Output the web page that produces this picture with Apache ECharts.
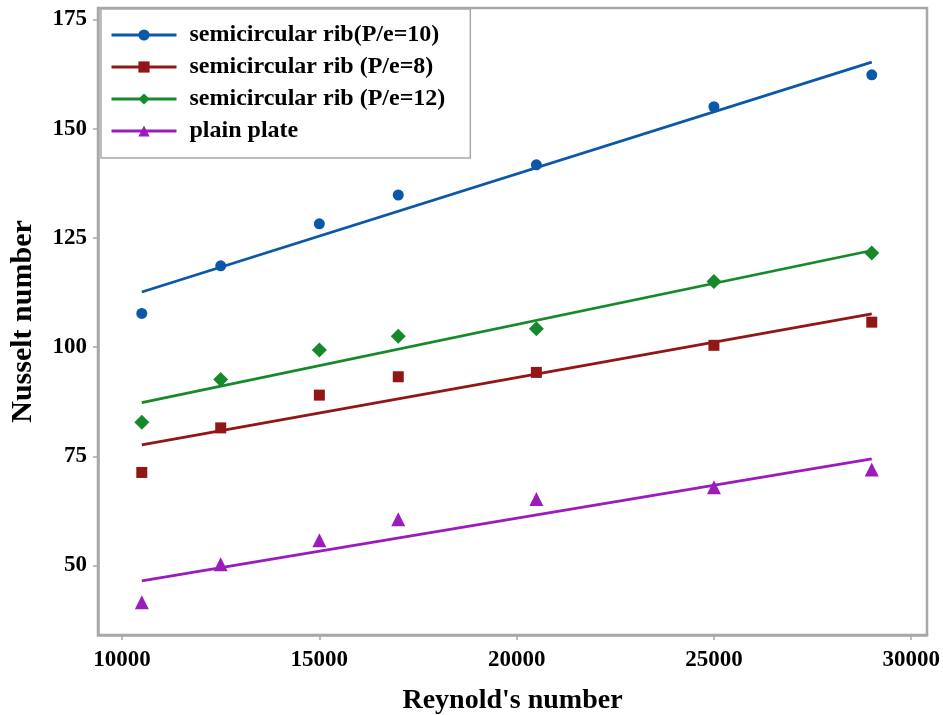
<!DOCTYPE html>
<html>
<head>
<meta charset="utf-8">
<script src="https://cdn.jsdelivr.net/npm/echarts@6/dist/echarts.min.js"></script>
<style>
  html, body { margin: 0; padding: 0; background: #fff; }
  #chart { width: 943px; height: 715px; }
</style>
</head>
<body>
<div id="chart"></div>
<script>
const reynolds = [10500, 12500, 15000, 17000, 20500, 25000, 29000];
const ribP10 = [107.7, 118.6, 128.2, 134.8, 141.7, 155.0, 162.3];
const ribP8 = [71.3, 81.5, 89.0, 93.2, 94.2, 100.4, 105.7];
const ribP12 = [82.8, 92.6, 99.3, 102.5, 104.2, 115.0, 121.5];
const plainPlate = [41.6, 50.3, 55.8, 60.6, 65.2, 67.9, 72.0];

// trend line ends
const fitReynolds = [10500, 29000];
const fitP10 = [112.6, 165.2];
const fitP8 = [77.6, 107.6];
const fitP12 = [87.3, 122.1];
const fitPlain = [46.5, 74.4];

const xTicks = [10000, 15000, 20000, 25000, 30000];
const yTicks = [50, 75, 100, 125, 150, 175];

const names = ['semicircular rib(P/e=10)', 'semicircular rib (P/e=8)', 'semicircular rib (P/e=12)', 'plain plate'];
const colors = ['#0b58a8', '#931616', '#168a2a', '#9a1cbd'];
const symbols = ['circle', 'rect', 'diamond', 'triangle'];
const sizes = [11, 11, 15, 14];
const points = [ribP10, ribP8, ribP12, plainPlate];
const fits = [fitP10, fitP8, fitP12, fitPlain];

const font = "'Liberation Serif', 'Times New Roman', serif";

const pair = (xs, ys) => xs.map((x, i) => [x, ys[i]]);

const series = [];
names.forEach((name, i) => {
  series.push({
    name: name,
    type: 'line',
    symbol: symbols[i],
    symbolSize: sizes[i],
    showSymbol: false,
    itemStyle: { color: colors[i] },
    lineStyle: { color: colors[i], width: 2.8 },
    data: pair(fitReynolds, fits[i]),
    z: 2
  });
  series.push({
    name: name,
    type: 'scatter',
    symbol: symbols[i],
    symbolSize: sizes[i],
    itemStyle: { color: colors[i], opacity: 1 },
    data: pair(reynolds, points[i]),
    z: 3
  });
});

const myChart = echarts.init(document.getElementById('chart'));

const option = {
  animation: false,
  backgroundColor: '#fff',
  grid: {
    left: 98,
    top: 8,
    right: 16,
    bottom: 80,
    outerBoundsMode: 'none',
    show: true,
    borderColor: '#a8a8a8',
    borderWidth: 2.5
  },
  legend: {
    left: 101,
    top: 9,
    orient: 'vertical',
    padding: [14, 25, 15, 9],
    itemWidth: 65,
    itemHeight: 14,
    itemGap: 8,
    borderColor: '#a8a8a8',
    borderWidth: 1.5,
    backgroundColor: '#fff',
    data: names,
    lineStyle: { width: 3 },
    itemStyle: { opacity: 1 },
    textStyle: {
      fontFamily: font,
      fontWeight: 'bold',
      fontSize: 24,
      color: '#000',
      lineHeight: 24,
      padding: [0, 0, 0, 8]
    }
  },
  xAxis: {
    type: 'value',
    min: 9390,
    max: 30400,
    name: "Reynold's number",
    nameLocation: 'middle',
    nameGap: 52,
    nameTextStyle: { fontFamily: font, fontWeight: 'bold', fontSize: 28, color: '#000' },
    axisLine: { show: true, lineStyle: { color: '#a8a8a8', width: 2.5 } },
    axisTick: { show: true, customValues: xTicks, length: 5, lineStyle: { color: '#a8a8a8', width: 1.5 } },
    axisLabel: {
      customValues: xTicks,
      formatter: v => String(v),
      margin: 14,
      fontFamily: font, fontWeight: 'bold', fontSize: 23, color: '#000'
    },
    splitLine: { show: false }
  },
  yAxis: {
    type: 'value',
    min: 34.1,
    max: 177.6,
    name: 'Nusselt number',
    nameLocation: 'middle',
    nameGap: 60,
    nameTextStyle: { fontFamily: font, fontWeight: 'bold', fontSize: 30, color: '#000' },
    axisLine: { show: true, lineStyle: { color: '#a8a8a8', width: 2.5 } },
    axisTick: { show: true, customValues: yTicks, length: 5, lineStyle: { color: '#a8a8a8', width: 1.5 } },
    axisLabel: { customValues: yTicks, margin: 11, fontFamily: font, fontWeight: 'bold', fontSize: 23, color: '#000' },
    splitLine: { show: false }
  },
  series: series
};

myChart.setOption(option);
</script>
</body>
</html>
